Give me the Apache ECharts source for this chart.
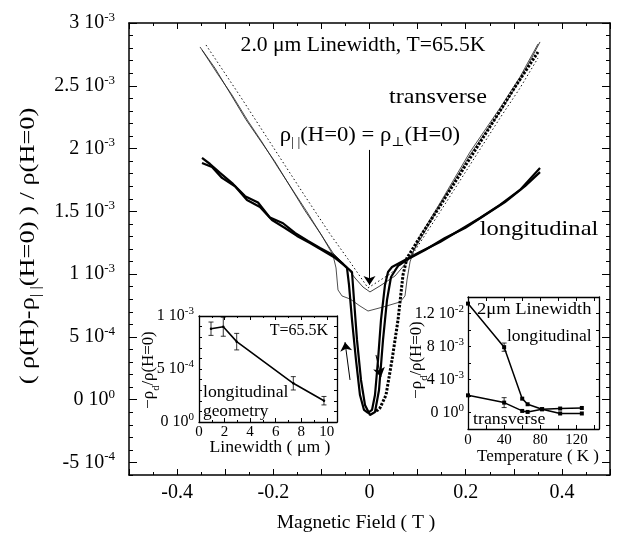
<!DOCTYPE html>
<html><head><meta charset="utf-8">
<script src="https://cdn.jsdelivr.net/npm/echarts@6/dist/echarts.min.js"></script>
<style>html,body{margin:0;padding:0;background:#fff}#c{width:619px;height:546px}</style>
</head><body><div id="c"></div>
<script>
// ---------- main plot data (field in T, value in units of 1e-3) ----------
const transA_H = [-0.3524,-0.3212,-0.2900,-0.2568,-0.2277,-0.1965,-0.1653,-0.1341,-0.1029,-0.0759,-0.0509,-0.0301,-0.0135,0.0010,0.0218,0.0530,0.0780,0.1050,0.1466,0.1778,0.2089,0.2401,0.2713,0.3129,0.3545];
const transA_V = [2.809,2.640,2.442,2.230,2.068,1.895,1.700,1.505,1.328,1.168,1.073,0.969,0.897,0.858,0.906,0.985,1.097,1.272,1.551,1.750,1.949,2.124,2.291,2.546,2.849];
const transB_H = [-0.3482,-0.3170,-0.2859,-0.2526,-0.2235,-0.1923,-0.1611,-0.1299,-0.0988,-0.0759,-0.0696,-0.0655,-0.0572,-0.0405,-0.0198,-0.0031,0.0281,0.0634,0.0738,0.0780,0.0842,0.0925,0.1050,0.1466,0.2089,0.2713,0.3129,0.3503];
const transB_V = [2.785,2.601,2.427,2.219,2.052,1.861,1.678,1.495,1.304,1.152,1.049,0.874,0.826,0.802,0.746,0.706,0.738,0.778,0.826,0.954,1.097,1.192,1.304,1.566,1.972,2.323,2.570,2.833];
const transDot_H = [-0.3399,-0.2692,-0.1965,-0.1341,-0.0821,-0.0405,-0.0031,0.0426,0.0884,0.1466,0.2089,0.2713,0.3129,0.3503];
const transDot_V = [2.825,2.419,1.989,1.621,1.320,1.097,0.890,1.001,1.152,1.495,1.869,2.243,2.482,2.721];
const transThick_H = [0.0135,0.0177,0.0218,0.0343,0.0468,0.0593,0.0696,0.0780,0.0884,0.1050,0.1466,0.2027,0.2568,0.3025,0.3503];
const transThick_V = [-0.090,-0.082,-0.066,0.037,0.316,0.635,0.993,1.129,1.192,1.296,1.543,1.885,2.212,2.490,2.769];
const longA_H = [-0.3482,-0.3316,-0.3108,-0.2838,-0.2588,-0.2318,-0.2069,-0.1798,-0.1549,-0.1279,-0.1029,-0.0759,-0.0551,-0.0468,-0.0426,-0.0364,-0.0281,-0.0198,-0.0114,-0.0031,0.0052,0.0114,0.0177,0.0239,0.0322,0.0385,0.0468,0.0738,0.1050,0.1466,0.1881,0.2297,0.2713,0.3129,0.3545];
const longA_V = [1.925,1.877,1.806,1.718,1.621,1.570,1.450,1.405,1.328,1.265,1.208,1.152,1.081,1.049,0.914,0.635,0.316,0.037,-0.082,-0.106,-0.082,0.037,0.316,0.635,0.914,1.017,1.057,1.113,1.176,1.256,1.351,1.447,1.551,1.670,1.845];
const longB_H = [-0.3482,-0.3274,-0.3067,-0.2796,-0.2547,-0.2277,-0.2027,-0.1757,-0.1507,-0.1237,-0.0988,-0.0717,-0.0509,-0.0364,-0.0322,-0.0260,-0.0177,-0.0094,0.0010,0.0114,0.0198,0.0281,0.0364,0.0447,0.0593,0.0842,0.1154,0.1570,0.1985,0.2401,0.2817,0.3233,0.3545];
const longB_V = [1.885,1.853,1.766,1.700,1.590,1.535,1.431,1.367,1.304,1.248,1.192,1.129,1.065,1.017,0.794,0.476,0.157,-0.042,-0.122,-0.098,0.077,0.476,0.794,0.977,1.065,1.129,1.192,1.288,1.367,1.471,1.574,1.700,1.812];

// arrows (annotations, in data coordinates)
const arrowMain = [[0.0, 1.989], [0.0, 0.914]];
const arrowUp = [[-0.0405, 0.157], [-0.0509, 0.458]];
const arrowDown = [[0.0135, 0.356], [0.0239, 0.181]];

// tick labels
const xTickVals = [-0.4, -0.2, 0, 0.2, 0.4];
const xTickLabels = ['-0.4', '-0.2', '0', '0.2', '0.4'];
const yTickVals = [-0.5, 0, 0.5, 1, 1.5, 2, 2.5, 3];
const yTickMant = ['-5', '0', '5', '1', '1.5', '2', '2.5', '3'];
const yTickExp = ['-4', '0', '-4', '-3', '-3', '-3', '-3', '-3'];

// ---------- inset 1: linewidth dependence (units 1e-3) ----------
const lwX = [0.94, 1.90, 2.95, 7.38, 9.78];
const lwV = [0.880, 0.899, 0.758, 0.365, 0.201];
const lwErr = [0.063, 0.090, 0.078, 0.063, 0.040];
const in1YVals = [0, 0.5, 1];
const in1YMant = ['0', '5', '1'];
const in1YExp = ['0', '-4', '-3'];

// ---------- inset 2: temperature dependence (units 1e-3) ----------
const tempT = [0, 40, 60, 66, 82, 102, 126];
const tempLong = [13.2, 7.92, 1.68, 1.0, 0.4, -0.12, -0.12];
const tempLongErr = [0, 0.5, 0, 0, 0, 0, 0];
const tempTrans = [2.08, 1.2, 0.19, 0.07, 0.4, 0.48, 0.55];
const tempTransErr = [0, 0.6, 0, 0, 0, 0, 0];
const in2XVals = [0, 40, 80, 120];
const in2YVals = [0, 4, 8, 12];
const in2YMant = ['0', '4', '8', '1.2'];
const in2YExp = ['0', '-3', '-3', '-2'];

const FONT = '"Liberation Serif", "DejaVu Serif", serif';
const zip = (a, b) => a.map((v, i) => [v, b[i]]);
const idx = (vals, v) => vals.findIndex(t => Math.abs(t - v) < 1e-6);

function supLabel(vals, mant, exp) {
  return v => { const i = idx(vals, v); return i < 0 ? '' : `{m|${mant[i]} 10}{s|${exp[i]}}`; };
}
function supRich(size, ssize) {
  return { m: { fontSize: size, fontFamily: FONT, color: '#000', lineHeight: size + 4 },
           s: { fontSize: ssize, fontFamily: FONT, color: '#000', verticalAlign: 'top' } };
}
const black = { color: '#000' };
function frameAxis(o) {
  return Object.assign({
    type: 'value', splitLine: { show: false }, minorSplitLine: { show: false },
    axisLine: { show: true, onZero: false, lineStyle: { color: '#000', width: 1.5 } },
    axisTick: { show: true, inside: true, length: 4, lineStyle: black },
    axisLabel: { show: false }
  }, o);
}
const insetLine = { show: true, onZero: false, lineStyle: { color: '#000', width: 1.3 } };
function errBars(xs, ys, es, xi, yi) {
  const data = xs.map((x, i) => [x, ys[i] - es[i], ys[i] + es[i]]).filter((d, i) => es[i] > 0);
  return {
    type: 'custom', xAxisIndex: xi, yAxisIndex: yi, data, silent: true, z: 5,
    renderItem: (params, api) => {
      const a = api.coord([api.value(0), api.value(1)]);
      const b = api.coord([api.value(0), api.value(2)]);
      const st = { stroke: '#000', lineWidth: 0.8 };
      return { type: 'group', children: [
        { type: 'line', shape: { x1: a[0], y1: a[1], x2: b[0], y2: b[1] }, style: st },
        { type: 'line', shape: { x1: a[0] - 2.5, y1: a[1], x2: a[0] + 2.5, y2: a[1] }, style: st },
        { type: 'line', shape: { x1: b[0] - 2.5, y1: b[1], x2: b[0] + 2.5, y2: b[1] }, style: st }
      ]};
    }
  };
}
function txt(text, x, y, size, sx, opts) {
  return { type: 'text', x, y, z: 100, scaleX: sx, style: Object.assign({
    text, fontSize: size, fontFamily: FONT, fill: '#000', align: 'center', verticalAlign: 'middle'
  }, opts || {}) };
}
function subRich(size) {
  return { t: { fontSize: size, fontFamily: FONT, fill: '#000', lineHeight: size + 8 },
           sub: { fontSize: Math.round(size * 0.62), fontFamily: FONT, fill: '#000', verticalAlign: 'bottom' } };
}

const chart = echarts.init(document.getElementById('c'), null, { renderer: 'canvas' });
const option = {
  animation: false,
  backgroundColor: '#fff',
  grid: [
    { left: 129, top: 23, width: 481, height: 452, show: false },
    { left: 129, top: 23, width: 481, height: 439.4, show: false },
    { left: 199, top: 316, width: 138, height: 106, show: true, backgroundColor: '#fff', borderWidth: 0 },
    { left: 468, top: 297, width: 131, height: 132, show: true, backgroundColor: '#fff', borderWidth: 0 }
  ],
  xAxis: [
    frameAxis({ gridIndex: 0, position: 'bottom', min: -0.5, max: 0.5, interval: 0.1,
      axisTick: { show: true, inside: true, length: 6, lineStyle: black },
      minorTick: { show: true, splitNumber: 2, length: 3, lineStyle: black },
      axisLabel: { show: true, margin: 8, fontSize: 20, fontFamily: FONT, color: '#000',
        formatter: v => { const i = idx(xTickVals, v); return i < 0 ? '' : xTickLabels[i]; } } }),
    frameAxis({ gridIndex: 0, position: 'top', min: -0.5, max: 0.5, interval: 0.1,
      axisTick: { show: true, inside: true, length: 6, lineStyle: black },
      minorTick: { show: true, splitNumber: 2, length: 3, lineStyle: black } }),
    { gridIndex: 1, type: 'value', min: -0.5, max: 0.5, show: false },
    frameAxis({ gridIndex: 2, position: 'bottom', min: 0, max: 10.8, interval: 2, axisLine: insetLine,
      minorTick: { show: true, splitNumber: 2, length: 2, lineStyle: black },
      axisLabel: { show: true, margin: 3, fontSize: 15, fontFamily: FONT, color: '#000' } }),
    frameAxis({ gridIndex: 2, position: 'top', min: 0, max: 10.8, interval: 2, axisLine: insetLine,
      minorTick: { show: true, splitNumber: 2, length: 2, lineStyle: black } }),
    frameAxis({ gridIndex: 3, position: 'bottom', min: 0, max: 145, interval: 20, axisLine: insetLine,
      axisLabel: { show: true, margin: 4, fontSize: 15, fontFamily: FONT, color: '#000',
        formatter: v => idx(in2XVals, v) < 0 ? '' : String(v) } }),
    frameAxis({ gridIndex: 3, position: 'top', min: 0, max: 145, interval: 20, axisLine: insetLine })
  ],
  yAxis: [
    frameAxis({ gridIndex: 0, position: 'left', min: -0.6, max: 3, interval: 0.1,
      axisTick: { show: true, inside: true, length: 4, lineStyle: black } }),
    frameAxis({ gridIndex: 0, position: 'right', min: -0.6, max: 3, interval: 0.1,
      axisTick: { show: true, inside: true, length: 4, lineStyle: black } }),
    frameAxis({ gridIndex: 1, position: 'left', min: -0.5, max: 3, interval: 0.5,
      axisLine: { show: false, onZero: false },
      axisTick: { show: true, inside: true, length: 8, lineStyle: black },
      axisLabel: { show: true, margin: 14, formatter: supLabel(yTickVals, yTickMant, yTickExp), rich: supRich(20, 13) } }),
    frameAxis({ gridIndex: 1, position: 'right', min: -0.5, max: 3, interval: 0.5,
      axisLine: { show: false, onZero: false },
      axisTick: { show: true, inside: true, length: 8, lineStyle: black } }),
    frameAxis({ gridIndex: 2, position: 'left', min: 0, max: 1, interval: 0.1, axisLine: insetLine,
      axisTick: { show: true, inside: true, length: 3, lineStyle: black },
      axisLabel: { show: true, margin: 5, formatter: supLabel(in1YVals, in1YMant, in1YExp), rich: supRich(16, 11) } }),
    frameAxis({ gridIndex: 2, position: 'right', min: 0, max: 1, interval: 0.1, axisLine: insetLine,
      axisTick: { show: true, inside: true, length: 3, lineStyle: black } }),
    frameAxis({ gridIndex: 3, position: 'left', min: -2, max: 14, interval: 2, axisLine: insetLine,
      axisTick: { show: true, inside: true, length: 3, lineStyle: black },
      axisLabel: { show: true, margin: 4, formatter: supLabel(in2YVals, in2YMant, in2YExp), rich: supRich(16, 11) } }),
    frameAxis({ gridIndex: 3, position: 'right', min: -2, max: 14, interval: 2, axisLine: insetLine,
      axisTick: { show: true, inside: true, length: 3, lineStyle: black } })
  ],
  series: [
    { type: 'line', xAxisIndex: 0, yAxisIndex: 0, data: zip(transDot_H, transDot_V), symbol: 'none', silent: true,
      lineStyle: { color: '#111', width: 1, type: [1.5, 2.5] } },
    { type: 'line', xAxisIndex: 0, yAxisIndex: 0, data: zip(transA_H, transA_V), symbol: 'none', silent: true,
      lineStyle: { color: '#111', width: 0.8 },
      markLine: { silent: true, symbol: ['none', 'arrow'], symbolSize: 9, animation: false,
        label: { show: false }, lineStyle: { color: '#000', width: 1, type: 'solid' },
        data: [
          [{ coord: arrowMain[0] }, { coord: arrowMain[1] }],
          [{ coord: arrowUp[0] }, { coord: arrowUp[1] }],
          [{ coord: arrowDown[0] }, { coord: arrowDown[1] }]
        ] } },
    { type: 'line', xAxisIndex: 0, yAxisIndex: 0, data: zip(transB_H, transB_V), symbol: 'none', silent: true,
      lineStyle: { color: '#222', width: 0.8 } },
    { type: 'line', xAxisIndex: 0, yAxisIndex: 0, data: zip(transThick_H, transThick_V), symbol: 'none', silent: true,
      lineStyle: { color: '#000', width: 3, type: [2.5, 1.5] } },
    { type: 'line', xAxisIndex: 0, yAxisIndex: 0, data: zip(longA_H, longA_V), symbol: 'none', silent: true,
      lineStyle: { color: '#000', width: 2.2 } },
    { type: 'line', xAxisIndex: 0, yAxisIndex: 0, data: zip(longB_H, longB_V), symbol: 'none', silent: true,
      lineStyle: { color: '#000', width: 2.2 } },
    // inset 1
    { type: 'line', xAxisIndex: 3, yAxisIndex: 4, data: zip(lwX, lwV), symbol: 'circle', symbolSize: 2.5, silent: true,
      itemStyle: { color: '#000' }, lineStyle: { color: '#000', width: 1.6 }, z: 6 },
    errBars(lwX, lwV, lwErr, 3, 4),
    // inset 2
    { type: 'line', xAxisIndex: 5, yAxisIndex: 6, data: zip(tempT, tempLong), symbol: 'rect', symbolSize: 4, silent: true,
      itemStyle: { color: '#000' }, lineStyle: { color: '#000', width: 1.5 }, z: 6 },
    { type: 'line', xAxisIndex: 5, yAxisIndex: 6, data: zip(tempT, tempTrans), symbol: 'rect', symbolSize: 4, silent: true,
      itemStyle: { color: '#000' }, lineStyle: { color: '#000', width: 1.5 }, z: 6 },
    errBars(tempT, tempLong, tempLongErr, 5, 6),
    errBars(tempT, tempTrans, tempTransErr, 5, 6)
  ],
  graphic: [
    txt('2.0 μm Linewidth, T=65.5K', 363, 45, 21, 1.03),
    txt('transverse', 438, 97, 21, 1.15),
    txt('{t|ρ}{sub|| |}{t|(H=0) = ρ}{sub|⊥}{t|(H=0)}', 370, 135, 21, 1.08, { rich: subRich(21) }),
    txt('longitudinal', 539, 229, 21, 1.17),
    txt('{t|( ρ(H)-ρ}{sub|| |}{t|(H=0) ) / ρ(H=0)}', 28, 246, 22, 1.2, { rich: subRich(22) }),
    txt('Magnetic Field ( T )', 356, 523, 19, 1.03),
    txt('T=65.5K', 299, 331, 16, 1),
    txt('longitudinal', 203, 393, 17, 1.04, { align: 'left' }),
    txt('geometry', 203, 412, 17, 1.02, { align: 'left' }),
    txt('Linewidth ( μm )', 270, 448, 17, 1.04),
    txt('{t|−ρ}{sub|d}{t|/ρ(H=0)}', 149, 370, 16, 1.05, { rich: subRich(16) }),
    txt('2μm Linewidth', 477, 310, 17, 1.09, { align: 'left' }),
    txt('longitudinal', 507, 337, 17, 1.03, { align: 'left' }),
    txt('transverse', 473, 420, 17, 1.05, { align: 'left' }),
    txt('Temperature ( K )', 538, 457, 17, 1.0),
    txt('{t|−ρ}{sub|d}{t|/ρ(H=0)}', 417, 360, 16, 1.05, { rich: subRich(16) })
  ]
};
// rotate the vertical axis titles
[4, 10, 15].forEach(i => { option.graphic[i].rotation = Math.PI / 2; });
chart.setOption(option);
</script>
</body></html>
